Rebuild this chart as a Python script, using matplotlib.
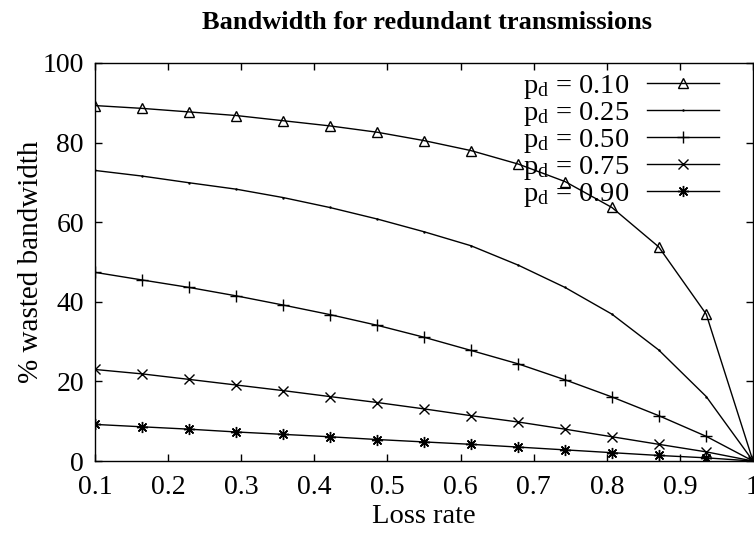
import matplotlib
matplotlib.use("Agg")
import matplotlib.pyplot as plt

plt.rcParams['font.family'] = ['Liberation Serif', 'DejaVu Serif']
plt.rcParams['mathtext.fontset'] = 'custom'
plt.rcParams['mathtext.rm'] = 'Liberation Serif'
plt.rcParams['mathtext.it'] = 'Liberation Serif'

# Loss rate samples
loss_rate = [0.1, 0.164, 0.229, 0.293, 0.357, 0.421, 0.486, 0.55,
             0.614, 0.679, 0.743, 0.807, 0.871, 0.936, 1.0]

# % wasted bandwidth for each duplication probability p_d
wasted_p10 = [89.3, 88.6, 87.7, 86.8, 85.5, 84.2, 82.6, 80.5,
              78.0, 74.6, 70.2, 63.7, 53.8, 36.9, 0.0]
wasted_p25 = [73.0, 71.6, 69.9, 68.3, 66.2, 63.7, 60.8, 57.6,
              54.1, 49.2, 43.6, 36.9, 27.9, 16.2, 0.0]
wasted_p50 = [47.4, 45.5, 43.6, 41.5, 39.2, 36.8, 34.1, 31.1,
              27.8, 24.4, 20.4, 16.1, 11.4, 6.2, 0.0]
wasted_p75 = [23.0, 21.9, 20.5, 19.1, 17.7, 16.2, 14.7, 13.1,
              11.4, 9.8, 8.0, 6.1, 4.2, 2.3, 0.0]
wasted_p90 = [9.2, 8.6, 8.0, 7.3, 6.7, 6.1, 5.4, 4.8,
              4.2, 3.5, 2.8, 2.1, 1.4, 0.8, 0.0]

labels = [r"$\mathregular{p_d}$ = 0.10", r"$\mathregular{p_d}$ = 0.25",
          r"$\mathregular{p_d}$ = 0.50", r"$\mathregular{p_d}$ = 0.75",
          r"$\mathregular{p_d}$ = 0.90"]

x_ticks = [0.1, 0.2, 0.3, 0.4, 0.5, 0.6, 0.7, 0.8, 0.9, 1.0]
x_tick_labels = ["0.1", "0.2", "0.3", "0.4", "0.5", "0.6", "0.7", "0.8", "0.9", "1"]
y_ticks = [0, 20, 40, 60, 80, 100]

fig = plt.figure(figsize=(7.54, 5.42), dpi=100)
ax = fig.add_axes([0.126, 0.1494, 0.8727, 0.7344])

ax.plot(loss_rate, wasted_p10, color='black', lw=1, marker='^', ms=7,
        mfc='none', mew=1, label=labels[0])
ax.plot(loss_rate, wasted_p25, color='black', lw=1, marker='.', ms=1.5,
        label=labels[1])
ax.plot(loss_rate, wasted_p50, color='black', lw=1, marker='+', ms=8,
        mew=1, label=labels[2])
ax.plot(loss_rate, wasted_p75, color='black', lw=1, marker='x', ms=6.5,
        mew=1, label=labels[3])
ax.plot(loss_rate, wasted_p90, color='black', lw=1, marker=(8, 2, 0), ms=8,
        mew=1, label=labels[4])

ax.set_xlim(0.1, 1.0)
ax.set_ylim(0, 100)
ax.set_xticks(x_ticks)
ax.set_xticklabels(x_tick_labels)
ax.set_yticks(y_ticks)
ax.tick_params(direction='in', length=5, width=1, top=True, right=True,
               labelsize=20)
ax.tick_params(axis='x', pad=10)
ax.tick_params(axis='y', pad=8)
for s in ax.spines.values():
    s.set_linewidth(1)

ax.set_xlabel("Loss rate", fontsize=20.5)
ax.xaxis.set_label_coords(0.5, -0.108)
ax.set_ylabel("% wasted bandwidth", fontsize=21, va='center')
ax.yaxis.set_label_coords(-0.097, 0.5)
fig.text(0.566, 0.959, "Bandwidth for redundant transmissions", fontsize=19,
         fontweight='bold', ha='center', va='center')

ax.legend(loc='upper right', frameon=False, markerfirst=False, fontsize=20.5,
          handlelength=2.56, handletextpad=0.6, labelspacing=-0.035,
          borderaxespad=0.2, bbox_to_anchor=(0.975, 1.0175))

fig.savefig("out.png", dpi=100)
